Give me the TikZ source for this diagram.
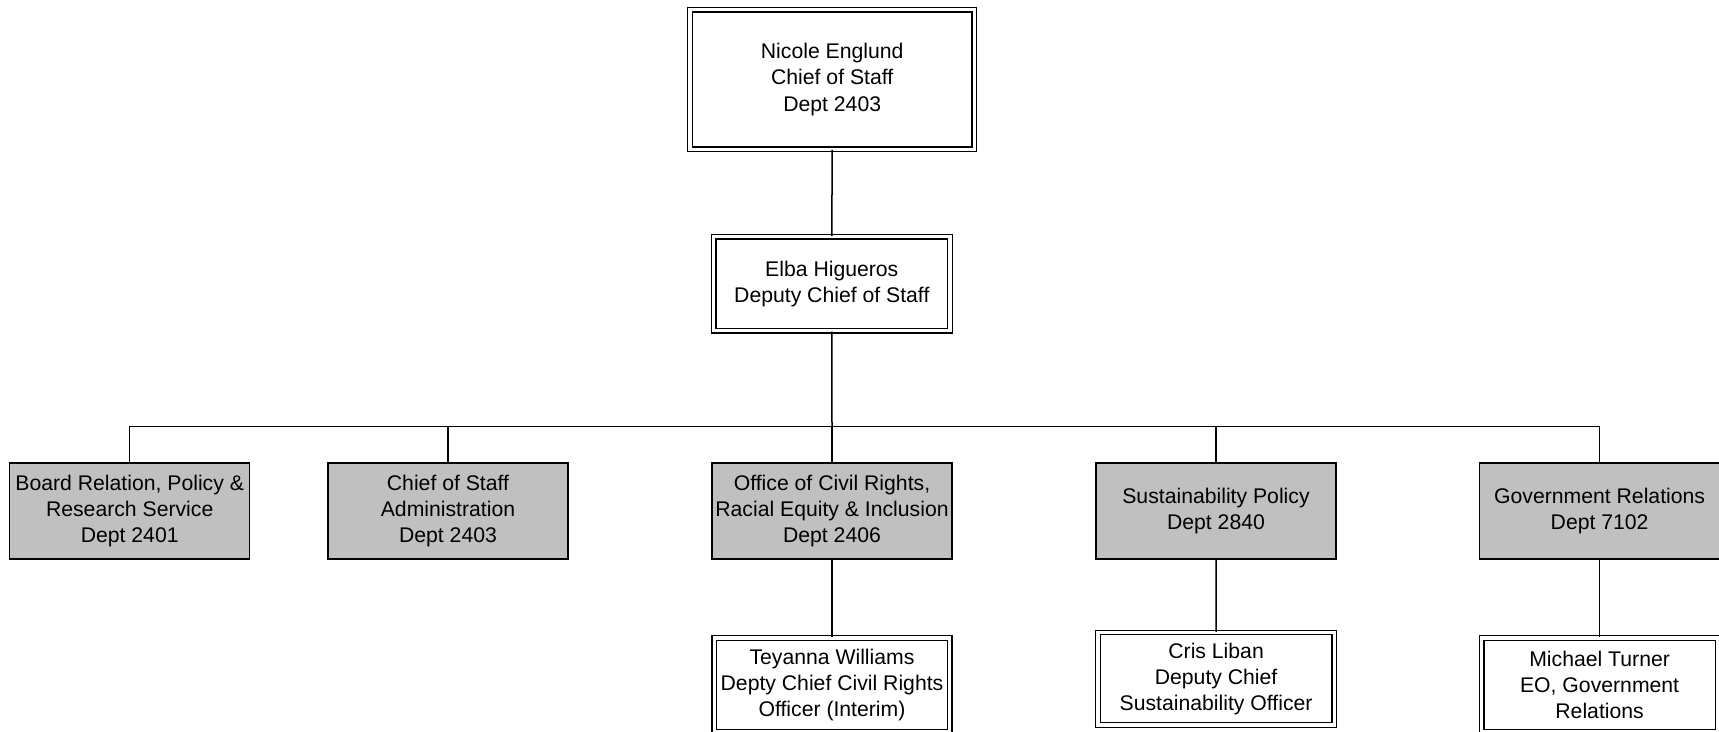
\documentclass[tikz,border=0pt]{standalone}
\usepackage{fontspec}
\setmainfont{Liberation Sans}
\definecolor{graybox}{RGB}{192,192,192}
\begin{document}
\begin{tikzpicture}[x=0.5pt,y=-0.5pt,
  every node/.style={font=\fontsize{10.6}{13.1}\selectfont, align=center, inner sep=0pt},
  grp/.style={draw=black, line width=0.75pt, fill=graybox, minimum width=120pt, minimum height=48pt},
  pers/.style={draw=black, fill=white, double=white, line width=0.65pt, double distance=1.6pt},
  link/.style={draw=black, line width=0.75pt}]
\path[use as bounding box, clip] (0,0) rectangle (1719,732);
\fill[white] (0,0) rectangle (1719,732);

\node[pers, minimum width=142.15pt, minimum height=69.65pt] (cos) at (832.2,79.5) {Nicole Englund\\Chief of Staff\\Dept 2403};
\node[pers, minimum width=118.1pt, minimum height=47.1pt] (dep) at (831.8,283.8) {Elba Higueros\\Deputy Chief of Staff};

\node[grp] (g1) at (129.7,510.8) {Board Relation, Policy \&\\Research Service\\Dept 2401};
\node[grp] (g2) at (448,510.8) {Chief of Staff\\Administration\\Dept 2403};
\node[grp] (g3) at (832,510.8) {Office of Civil Rights,\\Racial Equity \& Inclusion\\Dept 2406};
\node[grp] (g4) at (1216,510.8) {Sustainability Policy\\Dept 2840};
\node[grp] (g5) at (1599.6,510.8) {Government Relations\\Dept 7102};

\node[pers, minimum width=117.8pt, minimum height=47pt] (tw) at (832,685) {Teyanna Williams\\Depty Chief Civil Rights\\Officer (Interim)};
\node[pers, minimum width=118.2pt, minimum height=46.25pt] (cl) at (1216.1,678.75) {Cris Liban\\Deputy Chief\\Sustainability Officer};
\node[pers, minimum width=117.8pt, minimum height=47pt] (mt) at (1599.6,685) {Michael Turner\\EO, Government\\Relations};

\coordinate (bus) at (832,426.7);
\draw[link] (cos.south) -- (dep.north);
\draw[link] (dep.south) -- (bus);
\draw[link] (g1.north) -- (g1.north |- bus) -- (g5.north |- bus) -- (g5.north);
\draw[link] (g2.north) -- (g2.north |- bus);
\draw[link] (g3.north) -- (g3.north |- bus);
\draw[link] (g4.north) -- (g4.north |- bus);
\draw[link] (g3.south) -- (tw.north);
\draw[link] (g4.south) -- (cl.north);
\draw[link] (g5.south) -- (mt.north);
\end{tikzpicture}
\end{document}
